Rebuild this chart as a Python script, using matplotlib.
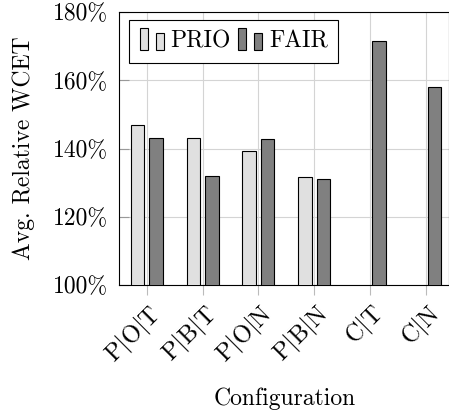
import matplotlib
matplotlib.use("Agg")
import matplotlib.pyplot as plt
import numpy as np
from matplotlib.patches import Rectangle
from matplotlib.legend_handler import HandlerBase

plt.rcParams['font.family'] = 'serif'
plt.rcParams['font.serif'] = ['cmr10']
plt.rcParams['axes.formatter.use_mathtext'] = True
plt.rcParams['mathtext.fontset'] = 'cm'

categories = ["P$|$O$|$T", "P$|$B$|$T", "P$|$O$|$N", "P$|$B$|$N", "C$|$T", "C$|$N"]
prio = [147.0, 143.1, 139.4, 131.7, np.nan, np.nan]
fair = [143.1, 132.0, 142.9, 131.0, 171.5, 157.9]
yticks = [100, 120, 140, 160, 180]
ytick_labels = ["100%", "120%", "140%", "160%", "180%"]

prio_color = "#e0e0e0"
fair_color = "#808080"

FS = 17

fig = plt.figure(figsize=(4.49, 4.12), dpi=100)
ax = fig.add_axes([119/449, 1-285/412, 330/449, 273/412])

x = np.arange(len(categories))
w = 0.24
shift = 0.165
ax.bar(x - shift, prio, width=w, color=prio_color, edgecolor="black", linewidth=0.8, zorder=3)
ax.bar(x + shift, fair, width=w, color=fair_color, edgecolor="black", linewidth=0.8, zorder=3)

ax.set_ylim(100, 180)
ax.set_xlim(-0.5, 5.42)
ax.set_yticks(yticks)
ax.set_yticklabels(ytick_labels, fontsize=FS)
ax.set_xticks(x)
ax.set_xticklabels(categories, rotation=45, ha='right', rotation_mode='anchor', fontsize=FS + 0.5)
ax.tick_params(axis='y', direction='in', length=7, color='#999999', width=0.8, pad=8)
ax.tick_params(axis='x', direction='out', length=7, color='#bbbbbb', width=0.8, pad=4)
ax.grid(True, color='#d4d4d4', linewidth=0.8, zorder=0)
ax.set_axisbelow(True)
for s in ax.spines.values():
    s.set_linewidth(0.8)
    s.set_color('black')

ax.set_ylabel("Avg. Relative WCET", fontsize=FS, labelpad=13)
ax.set_xlabel("Configuration", fontsize=FS)
ax.xaxis.set_label_coords(0.503, -0.375)


class DoubleBarHandler(HandlerBase):
    def __init__(self, color):
        super().__init__()
        self.color = color

    def create_artists(self, legend, orig_handle, xdescent, ydescent, width, height, fontsize, trans):
        bw = width * 0.32
        base = -ydescent - height * 0.12
        r1 = Rectangle((-xdescent, base), bw, height * 1.33,
                       facecolor=self.color, edgecolor='black', linewidth=0.8, transform=trans)
        r2 = Rectangle((-xdescent + width * 0.64, base), bw, height * 1.03,
                       facecolor=self.color, edgecolor='black', linewidth=0.8, transform=trans)
        return [r1, r2]


h1 = Rectangle((0, 0), 1, 1)
h2 = Rectangle((0, 0), 1, 1)
leg = ax.legend([h1, h2], ["PRIO", "FAIR"], ncol=2, loc='upper left',
                bbox_to_anchor=(0.03, 0.971), fontsize=FS, frameon=True, fancybox=False,
                handler_map={h1: DoubleBarHandler(prio_color), h2: DoubleBarHandler(fair_color)},
                handlelength=1.06, handletextpad=0.25, columnspacing=0.3, borderpad=0.45,
                borderaxespad=0)
leg.get_frame().set_edgecolor('black')
leg.get_frame().set_linewidth(0.8)
leg.get_frame().set_alpha(1)

fig.savefig("out.png", dpi=100)
